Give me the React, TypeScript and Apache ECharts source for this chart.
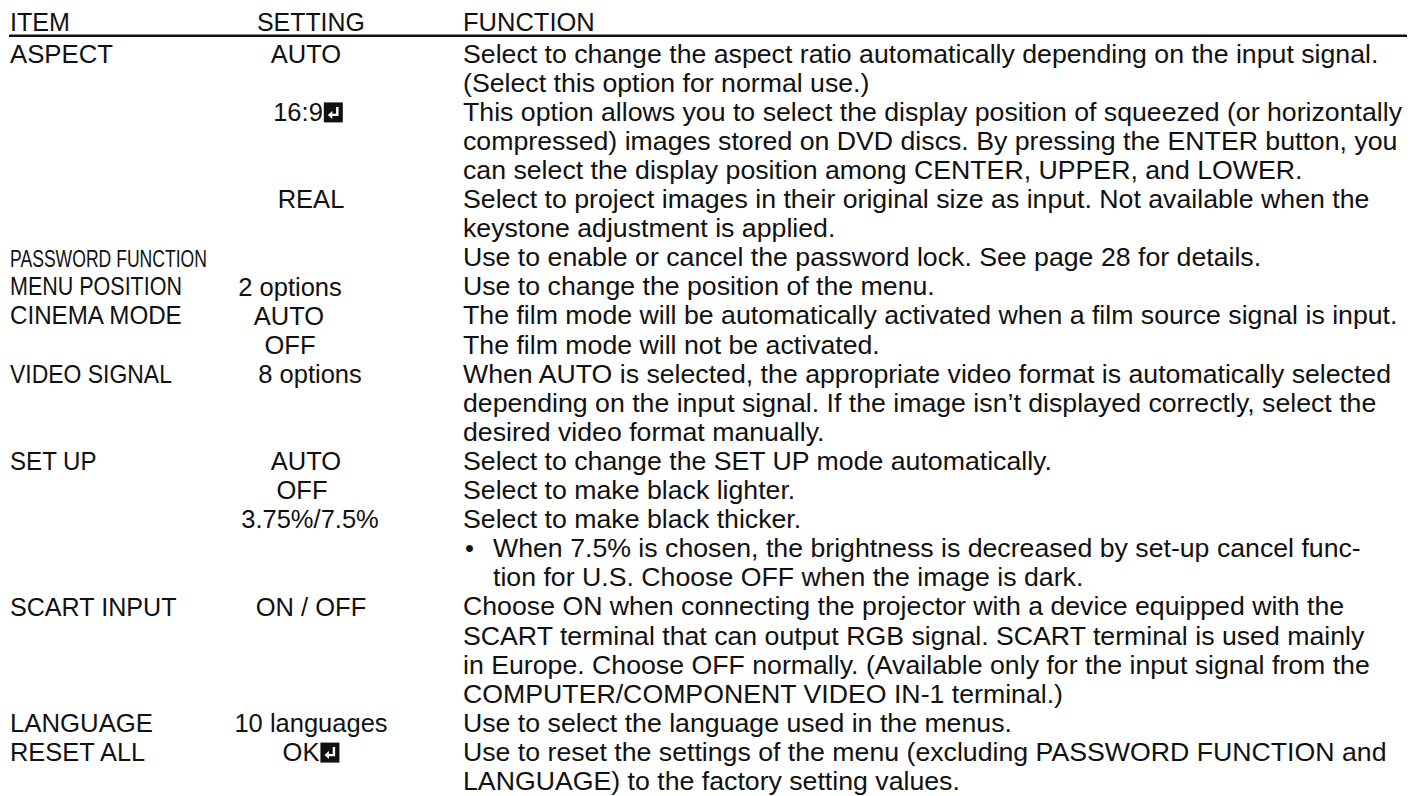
import React, { useEffect, useRef } from "react";
import * as echarts from "echarts";

// ---------- data ----------
const headers = ["ITEM", "SETTING", "FUNCTION"];

const itemNames = [
  "ASPECT",
  "PASSWORD FUNCTION",
  "MENU POSITION",
  "CINEMA MODE",
  "VIDEO SIGNAL",
  "SET UP",
  "SCART INPUT",
  "LANGUAGE",
  "RESET ALL",
];
const itemRows = [0, 7, 8, 9, 11, 14, 19, 23, 24];

const settingValues = [
  "AUTO",
  "16:9",
  "REAL",
  "2 options",
  "AUTO",
  "OFF",
  "8 options",
  "AUTO",
  "OFF",
  "3.75%/7.5%",
  "ON / OFF",
  "10 languages",
  "OK",
];
const settingRows = [0, 2, 5, 8, 9, 10, 11, 14, 15, 16, 19, 23, 24];
const settingEnterKey = [false, true, false, false, false, false, false, false, false, false, false, false, true];

const functionLines = [
  "Select to change the aspect ratio automatically depending on the input signal.",
  "(Select this option for normal use.)",
  "This option allows you to select the display position of squeezed (or horizontally",
  "compressed) images stored on DVD discs. By pressing the ENTER button, you",
  "can select the display position among CENTER, UPPER, and LOWER.",
  "Select to project images in their original size as input. Not available when the",
  "keystone adjustment is applied.",
  "Use to enable or cancel the password lock. See page 28 for details.",
  "Use to change the position of the menu.",
  "The film mode will be automatically activated when a film source signal is input.",
  "The film mode will not be activated.",
  "When AUTO is selected, the appropriate video format is automatically selected",
  "depending on the input signal. If the image isn\u2019t displayed correctly, select the",
  "desired video format manually.",
  "Select to change the SET UP mode automatically.",
  "Select to make black lighter.",
  "Select to make black thicker.",
  "When 7.5% is chosen, the brightness is decreased by set-up cancel func-",
  "tion for U.S. Choose OFF when the image is dark.",
  "Choose ON when connecting the projector with a device equipped with the",
  "SCART terminal that can output RGB signal. SCART terminal is used mainly",
  "in Europe. Choose OFF normally. (Available only for the input signal from the",
  "COMPUTER/COMPONENT VIDEO IN-1 terminal.)",
  "Use to select the language used in the menus.",
  "Use to reset the settings of the menu (excluding PASSWORD FUNCTION and",
  "LANGUAGE) to the factory setting values.",
];
const bulletRows = [17];
const hangingRows = [18];

// ---------- layout ----------
const FONT = "'Liberation Sans', Arial, Helvetica, sans-serif";
const FS = 25.5;
const HEADER_BASE = 30.7;
const FIRST_BASE = 62.7;
const STEP = 29.1;
const ITEM_X = 10;
const FUNC_X = 463;
const BULLET_X = 465;
const HANG_X = 493;
const headerX = [10, 257, 463];
const headerW = [60, 108, 0];
const itemW = [103, 197, 172, 173, 162, 87, 167, 143, 137];
const itemFS = [FS, 24, FS, FS, FS, FS, FS, FS, FS];
const settingCenter = [306, 308, 311, 290, 289, 290, 310, 306, 302, 310, 311, 311, 311];
const ICON_W = 19;
const REF_FUNC_ROW = 9;
const REF_FUNC_W = 935;

export default function App() {
  const ref = useRef<HTMLDivElement>(null);

  useEffect(() => {
    document.body.style.margin = "0";
    if (!ref.current) return;
    const chart = echarts.init(ref.current, undefined, { renderer: "svg" });

    const canvas = document.createElement("canvas");
    const ctx = canvas.getContext("2d")!;
    const measure = (t: string, fs: number) => {
      ctx.font = `${fs}px ${FONT}`;
      return ctx.measureText(t).width;
    };
    const mid = (base: number, fs: number) => base - 0.35 * fs;
    const rowBase = (r: number) => FIRST_BASE + r * STEP;

    const txt = (text: string, x: number, base: number, fs: number, targetW?: number, sx?: number) => {
      let scaleX = sx ?? 1;
      if (targetW && targetW > 0) scaleX = targetW / measure(text, fs);
      return {
        type: "text",
        x,
        y: mid(base, fs),
        scaleX,
        originX: 0,
        originY: 0,
        silent: true,
        style: {
          text,
          x: 0,
          y: 0,
          fill: "#111111",
          fontSize: fs,
          fontFamily: FONT,
          align: "left",
          verticalAlign: "middle",
        },
      };
    };

    const elements: any[] = [];

    headers.forEach((h, i) => elements.push(txt(h, headerX[i], HEADER_BASE, FS, headerW[i])));

    elements.push({
      type: "line",
      silent: true,
      shape: { x1: 9, y1: 35.8, x2: 1407, y2: 35.8 },
      style: { stroke: "#111111", lineWidth: 2.5 },
    });

    itemNames.forEach((n, i) => elements.push(txt(n, ITEM_X, rowBase(itemRows[i]), itemFS[i], itemW[i])));

    settingValues.forEach((s, i) => {
      const b = rowBase(settingRows[i]);
      const w = measure(s, FS);
      const total = w + (settingEnterKey[i] ? ICON_W + 1 : 0);
      const left = settingCenter[i] - total / 2;
      elements.push(txt(s, left, b, FS, 0, 1));
      if (settingEnterKey[i]) {
        const x = left + w + 1;
        const y = b - 18.5;
        elements.push({
          type: "rect",
          silent: true,
          shape: { x, y, width: ICON_W, height: 20 },
          style: { fill: "#111111" },
        });
        elements.push({
          type: "polyline",
          silent: true,
          shape: { points: [[x + 13.5, y + 4.5], [x + 13.5, y + 12.5], [x + 7.5, y + 12.5]] },
          style: { stroke: "#ffffff", lineWidth: 2.4, fill: null },
        });
        elements.push({
          type: "polygon",
          silent: true,
          shape: { points: [[x + 4, y + 12.5], [x + 8.5, y + 8.5], [x + 8.5, y + 16.5]] },
          style: { fill: "#ffffff" },
        });
      }
    });

    const funcScale = REF_FUNC_W / measure(functionLines[REF_FUNC_ROW], FS);
    functionLines.forEach((l, r) => {
      const b = rowBase(r);
      if (bulletRows.includes(r)) {
        elements.push(txt("\u2022", BULLET_X, b, FS, 0, 1));
        elements.push(txt(l, HANG_X, b, FS, 0, funcScale));
      } else if (hangingRows.includes(r)) {
        elements.push(txt(l, HANG_X, b, FS, 0, funcScale));
      } else {
        elements.push(txt(l, FUNC_X, b, FS, 0, funcScale));
      }
    });

    chart.setOption({
      animation: false,
      backgroundColor: "#ffffff",
      graphic: { elements },
    });

    return () => chart.dispose();
  }, []);

  return <div ref={ref} style={{ width: 1423, height: 796 }} />;
}
